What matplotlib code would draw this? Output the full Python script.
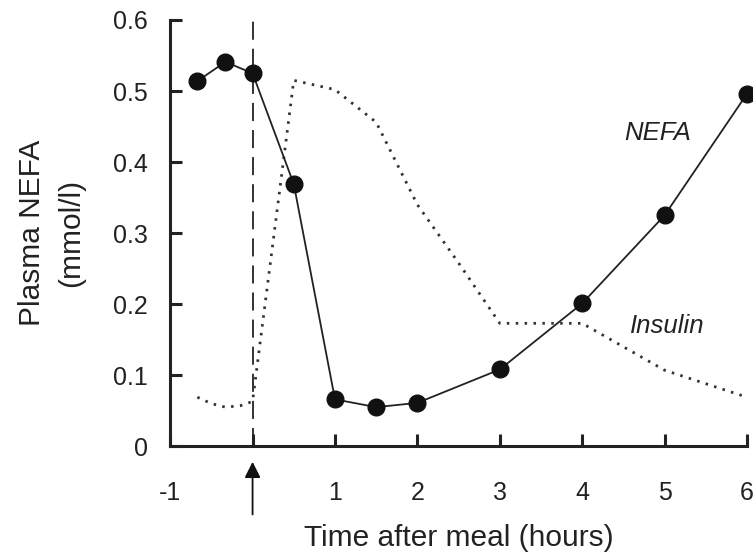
import matplotlib.pyplot as plt
import numpy as np

plt.rcParams['font.family'] = ['Liberation Sans', 'DejaVu Sans']

# NEFA (mmol/l) against time after meal (hours)
nefa_t = [-0.67, -0.33, 0.0, 0.5, 1.0, 1.5, 2.0, 3.0, 4.0, 5.0, 6.0]
nefa = [0.514, 0.541, 0.525, 0.369, 0.066, 0.055, 0.061, 0.108, 0.201, 0.325, 0.496]

# insulin trace, drawn on the same scale
ins_t = [-0.67, -0.5, -0.33, -0.15, 0.0, 0.5, 1.0, 1.5, 2.0, 2.5, 3.0, 4.0, 5.0, 6.0]
ins = [0.069, 0.060, 0.055, 0.057, 0.063, 0.515, 0.502, 0.456, 0.340, 0.258, 0.173, 0.173, 0.107, 0.069]

xticks = [-1, 0, 1, 2, 3, 4, 5, 6]
xticklabels = ['-1', '', '1', '2', '3', '4', '5', '6']
yticks = [0, 0.1, 0.2, 0.3, 0.4, 0.5, 0.6]
yticklabels = ['0', '0.1', '0.2', '0.3', '0.4', '0.5', '0.6']

fig = plt.figure(figsize=(7.53, 5.55), dpi=100)
ax = fig.add_axes([0.226, 0.196, 0.766, 0.768])

ax.axvline(0, ymin=0, ymax=1, color='#222222', lw=1.3, ls=(0, (10, 5)))
ax.plot(ins_t, ins, color='#333333', lw=2.0, ls=(0, (0.9, 2.3)), clip_on=False)
ax.plot(nefa_t, nefa, color='#222222', lw=1.3, marker='o', ms=12,
        mfc='#111111', mec='#111111', clip_on=False, zorder=3)

ax.text(4.91, 0.441, 'NEFA', style='italic', fontsize=18.5, ha='center', va='center', color='#222222')
ax.text(5.03, 0.169, 'Insulin', style='italic', fontsize=18.5, ha='center', va='center', color='#222222')

# meal arrow below the axis
ax.annotate('', xy=(0, -0.018), xytext=(0, -0.1), annotation_clip=False,
            arrowprops=dict(arrowstyle='-|>', color='#111111', lw=1.3, mutation_scale=24))

ax.set_xlim(-1, 6)
ax.set_ylim(0, 0.6)
ax.set_xticks(xticks)
ax.set_xticklabels(xticklabels)
ax.set_yticks(yticks)
ax.set_yticklabels(yticklabels)

for s in ['top', 'right']:
    ax.spines[s].set_visible(False)
for s in ['left', 'bottom']:
    ax.spines[s].set_linewidth(2.2)
    ax.spines[s].set_color('#222222')

ax.tick_params(axis='x', direction='in', length=8.5, width=2.2, pad=25, labelsize=18, colors='#222222')
ax.tick_params(axis='y', direction='in', length=8.5, width=2.2, pad=16, labelsize=18, colors='#222222')

ax.set_xlabel('Time after meal (hours)', fontsize=21.5, color='#222222', labelpad=14)
ax.set_ylabel('Plasma NEFA\n(mmol/l)', fontsize=21.5, color='#222222', labelpad=20, linespacing=1.5)

fig.savefig('out.png', dpi=100)
